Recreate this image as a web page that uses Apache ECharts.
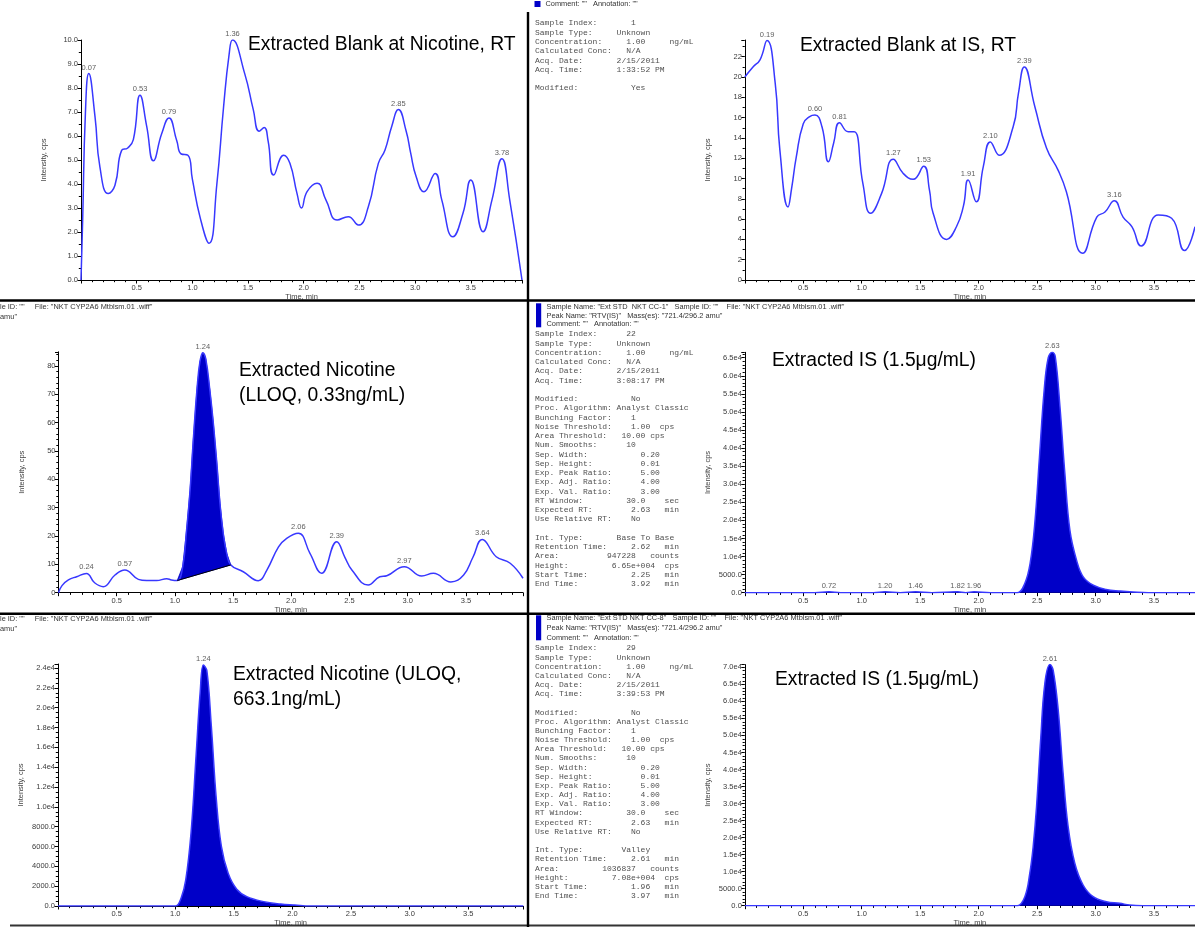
<!DOCTYPE html>
<html>
<head>
<meta charset="utf-8">
<title>Nicotine / IS extracted ion chromatograms</title>
<script src="https://cdn.jsdelivr.net/npm/echarts@6.0.0/dist/echarts.min.js"></script>
<style>
  html, body { margin: 0; padding: 0; background: #fff; }
  #c { width: 1195px; height: 927px; }
</style>
</head>
<body>
<div id="c"></div>
<script>
// ---------------------------------------------------------------------------
// Chromatogram traces: [time (min), intensity (cps)]
// ---------------------------------------------------------------------------

// Extracted blank, nicotine transition
const blankNicTrace = [
  [0, 0], [0.015, 2.5], [0.04, 7.0], [0.126, 6.8], [0.17, 4.7], [0.245, 3.6], [0.305, 3.95],
  [0.365, 5.4], [0.42, 5.5], [0.47, 5.85], [0.59, 6.4], [0.65, 4.97], [0.725, 6.1],
  [0.86, 5.8], [0.90, 5.25], [0.96, 5.2], [1.0, 4.2], [1.07, 2.6], [1.15, 1.53], [1.22, 4.0],
  [1.28, 7.2], [1.33, 9.4], [1.47, 8.6], [1.547, 7.1], [1.60, 6.2], [1.645, 6.35], [1.68, 5.8],
  [1.73, 4.37], [1.82, 5.2], [1.876, 4.86], [1.94, 3.6], [1.98, 3.0], [2.03, 3.68], [2.12, 4.03],
  [2.20, 3.33], [2.30, 2.5], [2.40, 2.64], [2.49, 2.29], [2.58, 3.05], [2.67, 4.86], [2.73, 5.42],
  [2.79, 6.4], [2.92, 6.2], [2.96, 5.3], [3.01, 4.3], [3.08, 3.68], [3.18, 4.44], [3.24, 3.33],
  [3.34, 1.8], [3.43, 2.78], [3.50, 4.17], [3.61, 2.01], [3.69, 3.33], [3.85, 3.33], [3.96, 0]
];
const blankNicPeaks = [[0.07, 8.6], [0.53, 7.7], [0.79, 6.75], [1.36, 10.0], [2.85, 7.1], [3.78, 5.05]];

// Extracted blank, IS transition
const blankIsTrace = [
  [0, 20], [0.07, 21.0], [0.13, 21.7], [0.26, 19.4], [0.30, 12.8], [0.37, 7.2], [0.40, 9.0],
  [0.44, 12.1], [0.50, 15.4], [0.555, 16.1], [0.66, 15.1], [0.715, 11.65], [0.76, 13.5],
  [0.885, 14.6], [0.935, 14.6], [1.01, 9.5], [1.076, 6.57], [1.17, 8.54], [1.355, 10.5],
  [1.44, 9.92], [1.58, 8.8], [1.61, 6.6], [1.726, 4.0], [1.81, 5.25], [1.87, 7.3], [1.98, 7.7],
  [2.04, 11.2], [2.175, 12.3], [2.295, 15.1], [2.34, 18.4], [2.48, 17.1], [2.58, 13.0],
  [2.68, 10.8], [2.75, 8.7], [2.89, 2.63], [3.01, 6.2], [3.08, 6.7], [3.235, 6.2], [3.31, 5.25],
  [3.39, 3.35], [3.535, 6.4], [3.65, 6.08], [3.76, 2.9], [3.85, 5.25]
];
const blankIsPeaks = [[0.19, 23.6], [0.60, 16.25], [0.81, 15.5], [1.27, 11.9], [1.53, 11.2],
  [1.91, 9.85], [2.10, 13.6], [2.39, 21.0], [3.16, 7.8]];

// Extracted nicotine at LLOQ (0.33 ng/mL)
const lloqTrace = [
  [0, 0], [0.03, 2.5], [0.085, 4.5], [0.156, 5.65], [0.31, 3.5], [0.385, 2.1], [0.485, 6.25],
  [0.686, 4.7], [0.757, 4.3], [0.843, 4.3], [0.93, 4.95], [0.97, 4.5], [1.02, 4.3],
  [1.067, 9.2], [1.10, 22], [1.13, 36], [1.158, 54], [1.19, 72], [1.215, 81.5], [1.265, 82.5],
  [1.30, 71.5], [1.33, 59.8], [1.36, 45.7], [1.387, 31.5], [1.415, 21], [1.445, 13.9], [1.48, 9.8],
  [1.587, 7.4], [1.716, 4.25], [1.79, 8.0], [1.89, 16.2], [1.96, 19.2], [2.16, 13.9], [2.26, 6.83],
  [2.46, 12.5], [2.52, 8.0], [2.66, 2.7], [2.76, 5.65], [2.82, 6.0], [3.12, 5.9], [3.22, 6.83],
  [3.37, 3.8], [3.48, 6.25], [3.56, 12.5], [3.76, 12.7], [3.88, 10.4], [3.99, 5.1]
];
const lloqPeaks = [[0.24, 6.8], [0.57, 8.0], [1.24, 84.7], [2.06, 21.0], [2.39, 18.0], [2.97, 9.2], [3.64, 18.8]];
// integration baseline of the nicotine peak (start, end)
const lloqBaseline = [[1.02, 4.3], [1.48, 9.8]];

// Extracted IS alongside the LLOQ sample
const isLloqTrace = [
  [0, 0], [0.6, 0], [0.82, 0], [1.1, 0], [1.33, 0], [1.6, 0], [1.89, 0], [2.1, 0], [2.33, 0],
  [2.395, 2600], [2.44, 8100], [2.48, 19200], [2.52, 37600], [2.56, 56000], [2.595, 65000],
  [2.655, 65300], [2.695, 51500], [2.737, 33000], [2.78, 17300], [2.837, 9000], [2.894, 4400],
  [2.98, 2100], [3.09, 900], [3.21, 470], [3.32, 200], [3.45, 0], [3.85, 0]
];
const isLloqPeaks = [[0.72, 250], [1.20, 250], [1.46, 250], [1.82, 250], [1.96, 250], [2.63, 66500]];

// Extracted nicotine at ULOQ (663.1 ng/mL)
const uloqTrace = [
  [0, 0], [0.95, 0], [1.005, 0], [1.05, 780], [1.09, 2630], [1.135, 7360], [1.178, 15120],
  [1.213, 21540], [1.27, 23730], [1.308, 18160], [1.351, 10730], [1.394, 6000], [1.452, 3300],
  [1.525, 1690], [1.611, 940], [1.755, 440], [1.9, 200], [2.02, 100], [2.15, 0], [3.97, 0]
];
const uloqPeaks = [[1.24, 24300]];

// Extracted IS alongside the ULOQ sample
const isUloqTrace = [
  [0, 0], [2.28, 0], [2.33, 0], [2.395, 2640], [2.437, 9500], [2.466, 17300], [2.495, 29100],
  [2.53, 48700], [2.566, 65300], [2.637, 69200], [2.68, 57500], [2.722, 38900], [2.765, 23200],
  [2.822, 12460], [2.893, 6080], [2.979, 2640], [3.093, 1170], [3.207, 700], [3.29, 200],
  [3.4, 0], [3.85, 0]
];
const isUloqPeaks = [[2.61, 70800]];

// ---------------------------------------------------------------------------
// Text
// ---------------------------------------------------------------------------
const timeAxisName = 'Time, min';
const intensityAxisName = 'Intensity, cps';

const panelTitles = [
  'Extracted Blank at Nicotine, RT',
  'Extracted Blank at IS, RT',
  'Extracted Nicotine\n(LLOQ, 0.33ng/mL)',
  'Extracted IS (1.5μg/mL)',
  'Extracted Nicotine (ULOQ,\n663.1ng/mL)',
  'Extracted IS (1.5μg/mL)'
];

const headerTop = 'Comment: ""   Annotation: ""';
const headerMid = [
  'Sample Name: "Ext STD  NKT CC-1"   Sample ID: ""    File: "NKT CYP2A6 Mtblsm.01 .wiff"',
  'Peak Name: "RTV(IS)"   Mass(es): "721.4/296.2 amu"',
  'Comment: ""   Annotation: ""'
];
const headerBot = [
  'Sample Name: "Ext STD NKT CC-8"   Sample ID: ""    File: "NKT CYP2A6 Mtblsm.01 .wiff"',
  'Peak Name: "RTV(IS)"   Mass(es): "721.4/296.2 amu"',
  'Comment: ""   Annotation: ""'
];
const headerLeftTail = ['le ID: ""     File: "NKT CYP2A6 Mtblsm.01 .wiff"', 'amu"'];

const infoTop = [
  'Sample Index:       1',
  'Sample Type:     Unknown',
  'Concentration:     1.00     ng/mL',
  'Calculated Conc:   N/A',
  'Acq. Date:       2/15/2011',
  'Acq. Time:       1:33:52 PM',
  '',
  'Modified:           Yes'
];
const infoMid = [
  'Sample Index:      22',
  'Sample Type:     Unknown',
  'Concentration:     1.00     ng/mL',
  'Calculated Conc:   N/A',
  'Acq. Date:       2/15/2011',
  'Acq. Time:       3:08:17 PM',
  '',
  'Modified:           No',
  'Proc. Algorithm: Analyst Classic',
  'Bunching Factor:    1',
  'Noise Threshold:    1.00  cps',
  'Area Threshold:   10.00 cps',
  'Num. Smooths:      10',
  'Sep. Width:           0.20',
  'Sep. Height:          0.01',
  'Exp. Peak Ratio:      5.00',
  'Exp. Adj. Ratio:      4.00',
  'Exp. Val. Ratio:      3.00',
  'RT Window:         30.0    sec',
  'Expected RT:        2.63   min',
  'Use Relative RT:    No',
  '',
  'Int. Type:       Base To Base',
  'Retention Time:     2.62   min',
  'Area:          947228   counts',
  'Height:         6.65e+004  cps',
  'Start Time:         2.25   min',
  'End Time:           3.92   min'
];
const infoBot = [
  'Sample Index:      29',
  'Sample Type:     Unknown',
  'Concentration:     1.00     ng/mL',
  'Calculated Conc:   N/A',
  'Acq. Date:       2/15/2011',
  'Acq. Time:       3:39:53 PM',
  '',
  'Modified:           No',
  'Proc. Algorithm: Analyst Classic',
  'Bunching Factor:    1',
  'Noise Threshold:    1.00  cps',
  'Area Threshold:   10.00 cps',
  'Num. Smooths:      10',
  'Sep. Width:           0.20',
  'Sep. Height:          0.01',
  'Exp. Peak Ratio:      5.00',
  'Exp. Adj. Ratio:      4.00',
  'Exp. Val. Ratio:      3.00',
  'RT Window:         30.0    sec',
  'Expected RT:        2.63   min',
  'Use Relative RT:    No',
  '',
  'Int. Type:        Valley',
  'Retention Time:     2.61   min',
  'Area:         1036837   counts',
  'Height:         7.08e+004  cps',
  'Start Time:         1.96   min',
  'End Time:           3.97   min'
];

// ---------------------------------------------------------------------------
// Styling
// ---------------------------------------------------------------------------
const SANS = '"Liberation Sans", Arial, Helvetica, sans-serif';
const MONO = '"Liberation Mono", "DejaVu Sans Mono", monospace';
const LINE_BLUE = '#3838ff';
const FILL_BLUE = '#0000c8';
const TICK_TEXT = '#3a3a3a';

function sciFmt(step) {
  return v => {
    if (v % step !== 0) return '';
    if (v < 10000) return v.toFixed(1);
    return (v / 1e4).toFixed(1) + 'e4';
  };
}
const timeFmt = v => (v > 0 && Math.abs(v * 2 - Math.round(v * 2)) < 1e-9) ? v.toFixed(1) : '';

const panels = [
  { grid: { left: 81, top: 40, width: 441, height: 240 }, xMax: 3.96,
    yMax: 10, yInterval: 1, yMinor: 2, yFmt: v => Number.isInteger(v) ? v.toFixed(1) : '',
    trace: blankNicTrace, peaks: blankNicPeaks, area: false, smooth: 0.5 },
  { grid: { left: 744.8, top: 40, width: 450.2, height: 240 }, xMax: 3.85,
    yMax: 23.65, yInterval: 2, yMinor: 2, yFmt: v => v % 2 === 0 ? String(v) : '',
    trace: blankIsTrace, peaks: blankIsPeaks, area: false, smooth: 0.5 },
  { grid: { left: 58.5, top: 351.8, width: 464.5, height: 240.9 }, xMax: 3.99,
    yMax: 85, yInterval: 10, yMinor: 5, yFmt: v => v % 10 === 0 ? String(v) : '',
    trace: lloqTrace, peaks: lloqPeaks, area: false, baseline: lloqBaseline, smooth: 0.45 },
  { grid: { left: 744.8, top: 352.3, width: 450.2, height: 240.4 }, xMax: 3.85,
    yMax: 66500, yInterval: 5000, yMinor: 5, yFmt: sciFmt(5000),
    trace: isLloqTrace, peaks: isLloqPeaks, area: true, smooth: 0.4 },
  { grid: { left: 58, top: 664, width: 465.3, height: 242 }, xMax: 3.97,
    yMax: 24400, yInterval: 2000, yMinor: 4, yFmt: sciFmt(2000),
    trace: uloqTrace, peaks: uloqPeaks, area: true, smooth: 0.4 },
  { grid: { left: 744.8, top: 664.6, width: 450.2, height: 241.1 }, xMax: 3.85,
    yMax: 70800, yInterval: 5000, yMinor: 5, yFmt: sciFmt(5000),
    trace: isUloqTrace, peaks: isUloqPeaks, area: true, smooth: 0.4 }
];

const grids = [], xAxes = [], yAxes = [], series = [];

panels.forEach((p, i) => {
  grids.push(Object.assign({ containLabel: false, outerBoundsMode: 'none' }, p.grid));

  xAxes.push({
    type: 'value', gridIndex: i, min: 0, max: p.xMax, interval: 0.5,
    axisLine: { show: true, onZero: false, lineStyle: { color: '#000', width: 1 } },
    axisTick: { show: true, length: 3.5, lineStyle: { color: '#000', width: 1 } },
    minorTick: { show: true, splitNumber: 5, length: 2.2, lineStyle: { color: '#000', width: 1 } },
    splitLine: { show: false }, minorSplitLine: { show: false },
    axisLabel: { formatter: timeFmt, fontSize: 7.5, color: TICK_TEXT, fontFamily: SANS, margin: 4 },
    name: timeAxisName, nameLocation: 'middle', nameGap: 12.5,
    nameTextStyle: { fontSize: 7.5, color: '#444', fontFamily: SANS }
  });

  yAxes.push({
    type: 'value', gridIndex: i, min: 0, max: p.yMax, interval: p.yInterval,
    axisLine: { show: true, lineStyle: { color: '#000', width: 1 } },
    axisTick: { show: true, length: 3.5, lineStyle: { color: '#000', width: 1 } },
    minorTick: { show: true, splitNumber: p.yMinor, length: 2.2, lineStyle: { color: '#000', width: 1 } },
    splitLine: { show: false }, minorSplitLine: { show: false },
    axisLabel: { formatter: p.yFmt, fontSize: 7.5, color: TICK_TEXT, fontFamily: SANS, margin: 3 },
    name: intensityAxisName, nameLocation: 'middle', nameGap: 33,
    nameTextStyle: { fontSize: 7.5, color: '#444', fontFamily: SANS }
  });

  const curve = p.trace.concat(p.peaks).sort((a, b) => a[0] - b[0]);

  if (p.baseline) {
    const s = p.baseline[0][0], e = p.baseline[1][0];
    const region = curve.filter(pt => pt[0] >= s && pt[0] <= e);
    // integrated peak area between the trace and its baseline
    series.push({
      type: 'custom', xAxisIndex: i, yAxisIndex: i, data: region, z: 2, silent: true,
      renderItem: (params, api) => {
        if (params.dataIndex !== 0) return null;
        const pts = region.map(pt => api.coord(pt));
        return { type: 'polygon', shape: { points: pts }, style: { fill: FILL_BLUE, stroke: FILL_BLUE, lineWidth: 0.8 } };
      }
    });
    series.push({
      type: 'line', xAxisIndex: i, yAxisIndex: i, data: p.baseline, symbol: 'none', z: 4,
      lineStyle: { color: '#000', width: 1 }, silent: true
    });
  }

  series.push({
    type: 'line', xAxisIndex: i, yAxisIndex: i, data: curve, smooth: p.smooth,
    symbol: 'none', z: 3, silent: true,
    lineStyle: { color: LINE_BLUE, width: 1.5 },
    areaStyle: p.area ? { color: FILL_BLUE, opacity: 1 } : undefined
  });

  // retention-time labels over the detected peaks
  series.push({
    type: 'scatter', xAxisIndex: i, yAxisIndex: i, data: p.peaks, symbolSize: 1, z: 5, silent: true,
    itemStyle: { color: 'rgba(0,0,0,0)' },
    label: {
      show: true, position: 'top', distance: 1.5,
      formatter: q => q.value[0].toFixed(2),
      fontSize: 7.5, color: '#333', fontFamily: SANS
    }
  });
});

// ---------------------------------------------------------------------------
// Frame lines, header text, method blocks and panel titles
// ---------------------------------------------------------------------------
function textEl(x, y, text, size, family, fill, lineHeight) {
  return {
    type: 'text', x, y, silent: true, z: 100,
    style: {
      text, fontSize: size, fontFamily: family, fill, lineHeight,
      align: 'left', verticalAlign: 'top', textAlign: 'left', textVerticalAlign: 'top'
    }
  };
}
function lineEl(x1, y1, x2, y2, w, color) {
  return { type: 'line', silent: true, z: 90, shape: { x1, y1, x2, y2 }, style: { stroke: color, lineWidth: w } };
}
function rectEl(x, y, w, h) {
  return { type: 'rect', silent: true, z: 90, shape: { x, y, width: w, height: h }, style: { fill: FILL_BLUE } };
}

const TITLE_SIZE = 19.3;
const titlePos = [[248, 45], [800, 46], [239, 371], [772, 361], [233, 675], [775, 680]];

const graphics = [
  lineEl(0, 300.5, 1195, 300.5, 2.6, '#000'),
  lineEl(0, 613.7, 1195, 613.7, 2.4, '#000'),
  lineEl(10, 925.5, 1195, 925.5, 2, '#333'),
  lineEl(528, 12, 528, 927, 2.4, '#000'),

  rectEl(534.5, 1, 6, 6),
  rectEl(536, 303.3, 5.2, 24),
  rectEl(536, 615.3, 5.2, 25),

  textEl(545.5, 0.2, headerTop, 7.4, SANS, '#333', 8),
  textEl(546.5, 302.3, headerMid.join('\n'), 7.4, SANS, '#333', 8.8),
  textEl(546.5, 612.4, headerBot.join('\n'), 7.4, SANS, '#333', 10.3),
  textEl(0, 302.8, headerLeftTail.join('\n'), 7.4, SANS, '#333', 9.2),
  textEl(0, 614.8, headerLeftTail.join('\n'), 7.4, SANS, '#333', 9.2),

  textEl(535, 23.3 - 4.64, infoTop.join('\n'), 8, MONO, '#505050', 9.29),
  textEl(535, 334.3 - 4.62, infoMid.join('\n'), 8, MONO, '#505050', 9.25),
  textEl(535, 648.3 - 4.58, infoBot.join('\n'), 8, MONO, '#505050', 9.17)
];

panelTitles.forEach((t, i) => {
  const lh = 24.2;
  graphics.push(textEl(titlePos[i][0], titlePos[i][1] - lh / 2, t, TITLE_SIZE, SANS, '#000', lh));
});

const chart = echarts.init(document.getElementById('c'), null, { renderer: 'canvas', width: 1195, height: 927 });
chart.setOption({
  animation: false,
  backgroundColor: '#fff',
  grid: grids,
  xAxis: xAxes,
  yAxis: yAxes,
  series,
  graphic: { elements: graphics }
});
</script>
</body>
</html>
